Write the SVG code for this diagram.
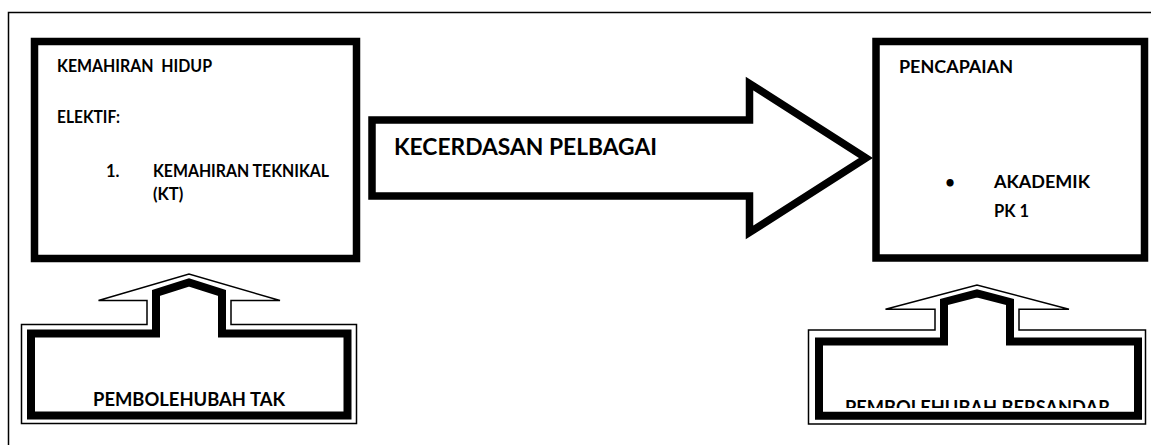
<svg xmlns="http://www.w3.org/2000/svg" width="1151" height="445" viewBox="0 0 1151 445">
<style>
.box{fill:#fff;stroke:#000;stroke-width:7.5;stroke-linejoin:miter}
.thin{fill:#fff;stroke:#000;stroke-width:1.5;stroke-linejoin:miter}
.thick{fill:none;stroke:#000;stroke-width:8;stroke-linejoin:miter;stroke-miterlimit:10}
.t{font-family:Lato,"Open Sans","Liberation Sans",sans-serif;font-weight:bold;fill:#000}
.s15{font-size:16.5px}
.s19{font-size:19.5px}
.s21{font-size:22px}
</style>
<defs>
<clipPath id="clipBersandar"><rect x="820" y="380" width="320" height="28"/></clipPath>
</defs>
<rect id="frame" x="8.5" y="12.5" width="1200" height="500" fill="#fff" stroke="#000" stroke-width="1.5"/>
<g id="node-kemahiran-hidup">
<rect class="box" x="34.5" y="41.5" width="322" height="217"/>
<text class="t s15" x="57" y="72" textLength="155" lengthAdjust="spacingAndGlyphs" xml:space="preserve">KEMAHIRAN  HIDUP</text>
<text class="t s15" x="57" y="123.3" textLength="63" lengthAdjust="spacingAndGlyphs">ELEKTIF:</text>
<text class="t s15" x="106" y="177.3">1.</text>
<text class="t s15" x="153" y="177.3" textLength="176" lengthAdjust="spacingAndGlyphs">KEMAHIRAN TEKNIKAL</text>
<text class="t s15" x="153" y="199.5">(KT)</text>
</g>
<g id="node-pencapaian">
<rect class="box" x="876" y="41.5" width="268.5" height="216.5"/>
<text class="t s15" x="899" y="73.3" textLength="114" lengthAdjust="spacingAndGlyphs">PENCAPAIAN</text>
<text class="t s15" x="950" y="188.3" text-anchor="middle">•</text>
<text class="t s15" x="994" y="188.3" textLength="96" lengthAdjust="spacingAndGlyphs">AKADEMIK</text>
<text class="t s15" x="994" y="216.7">PK 1</text>
</g>
<g id="node-pembolehubah-tak">
<path class="thin" d="M21.5,324.5 H147 V300.5 H98.5 L189,274 L280,300.5 H231 V324.5 H356.5 V423.5 H21.5 Z"/>
<path class="thick" d="M31,333.5 H156 V293 L189,282.5 L222,293 V333.5 H347.5 V415.5 H31 Z"/>
<text class="t s19" x="189" y="406" text-anchor="middle" textLength="192" lengthAdjust="spacingAndGlyphs">PEMBOLEHUBAH TAK</text>
</g>
<g id="node-pembolehubah-bersandar">
<path class="thin" d="M808.5,330 H935 V309.3 H885.5 L977,285 L1069,309.3 H1019 V330 H1145.5 V424 H808.5 Z"/>
<path class="thick" d="M819,341.5 H944 V302 L977,293.5 L1010,302 V341.5 H1138 V415.8 H819 Z"/>
<text class="t s19" x="977.5" y="414" text-anchor="middle" textLength="265" lengthAdjust="spacingAndGlyphs" clip-path="url(#clipBersandar)">PEMBOLEHUBAH BERSANDAR</text>
</g>
<g id="connectors">
<g id="arrow-kecerdasan-pelbagai">
<path class="box" d="M372,120 H749.5 V83.5 L866,158 L749.5,232.5 V196 H372 Z"/>
<text class="t s21" x="394" y="155.4" textLength="263" lengthAdjust="spacingAndGlyphs">KECERDASAN PELBAGAI</text>
</g>
</g>
</svg>
